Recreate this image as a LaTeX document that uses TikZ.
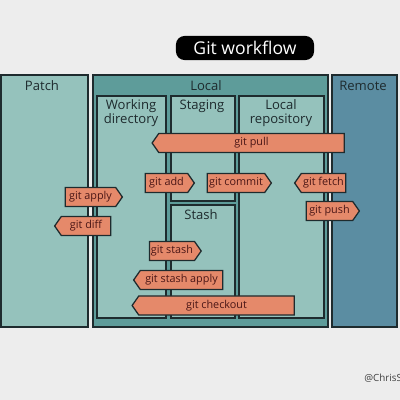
\documentclass[tikz,border=0pt]{standalone}
\usepackage{fontspec}
\setmainfont{Open Sans}
\usetikzlibrary{shapes.symbols}

\definecolor{bgcol}{HTML}{EDEDED}
\definecolor{lightteal}{HTML}{95C2BC}
\definecolor{darkteal}{HTML}{5E9C9A}
\definecolor{remoteblue}{HTML}{5B8DA2}
\definecolor{cmdorange}{HTML}{E5896A}
\definecolor{cmdtext}{HTML}{4A1616}
\definecolor{inkline}{HTML}{1E2B2E}

\tikzset{
  panel/.style={draw=inkline,line width=1.4pt},
  boxarea/.style={draw=inkline,line width=1.1pt,fill=lightteal},
  paneltitle/.style={text=inkline,align=center,font=\fontsize{9.3}{10}\selectfont},
  cmd/.style={signal,draw=inkline,fill=cmdorange,text=cmdtext,line width=0.9pt,
    font=\fontsize{7.7}{8}\selectfont,minimum height=0.48cm,inner sep=1pt,
    signal pointer angle=110},
  toright/.style={cmd,signal to=east},
  toleft/.style={cmd,signal to=west}
}

\begin{document}
\begin{tikzpicture}[x=0.025cm,y=-0.025cm]
  \fill[bgcol](0,0)rectangle(400,400);
  \useasboundingbox(0,0)rectangle(400,400);
  % title
  \node[fill=black,rounded corners=6pt,text=white,minimum width=3.45cm,minimum height=0.6cm,
        font=\fontsize{12.5}{13}\selectfont](title)at(245,48){Git workflow};
  % panels
  \draw[panel,fill=lightteal](1,75)rectangle(88,327);
  \draw[panel,fill=darkteal](93,75)rectangle(328,327);
  \draw[panel,fill=remoteblue](332,75)rectangle(397,327);
  \draw[boxarea](97,96)rectangle(166,318);
  \draw[boxarea](171,96)rectangle(235,201);
  \draw[boxarea](171,205)rectangle(235,318);
  \draw[boxarea](239,96)rectangle(324,318);
  \node[paneltitle](patch)at(42,86){Patch};
  \node[paneltitle](local)at(206,86){Local};
  \node[paneltitle](remote)at(363,86){Remote};
  \node[paneltitle](workdir)at(131,113){Working\\directory};
  \node[paneltitle](staging)at(202,106){Staging};
  \node[paneltitle](localrepo)at(281,113){Local\\repository};
  \node[paneltitle](stash)at(201,215){Stash};
  % commands
  \node[toleft,minimum width=4.8cm](pull)at(251.5,143){git pull};
  \node[toright,minimum width=1.225cm](add)at(166.5,183){git add};
  \node[toright,minimum width=1.6cm](commit)at(236,183){git commit};
  \node[toleft,minimum width=1.275cm](fetch)at(323.5,183){git fetch};
  \node[toright,minimum width=1.425cm](apply)at(90.5,197){git apply};
  \node[toright,minimum width=1.325cm](push)at(329.5,211){git push};
  \node[toleft,minimum width=1.4cm](diff)at(86,226){git diff};
  \node[toright,minimum width=1.275cm](stashcmd)at(172,251){git stash};
  \node[toleft,minimum width=2.225cm](stashapply)at(181.5,280){git stash apply};
  \node[toleft,minimum width=4.05cm](checkout)at(216.5,305.5){git checkout};
  % credit
  \node[anchor=west,text=black!75,inner sep=0pt,font=\fontsize{7}{7}\selectfont](credit)at(364,378){@ChrisS};
\end{tikzpicture}
\end{document}
